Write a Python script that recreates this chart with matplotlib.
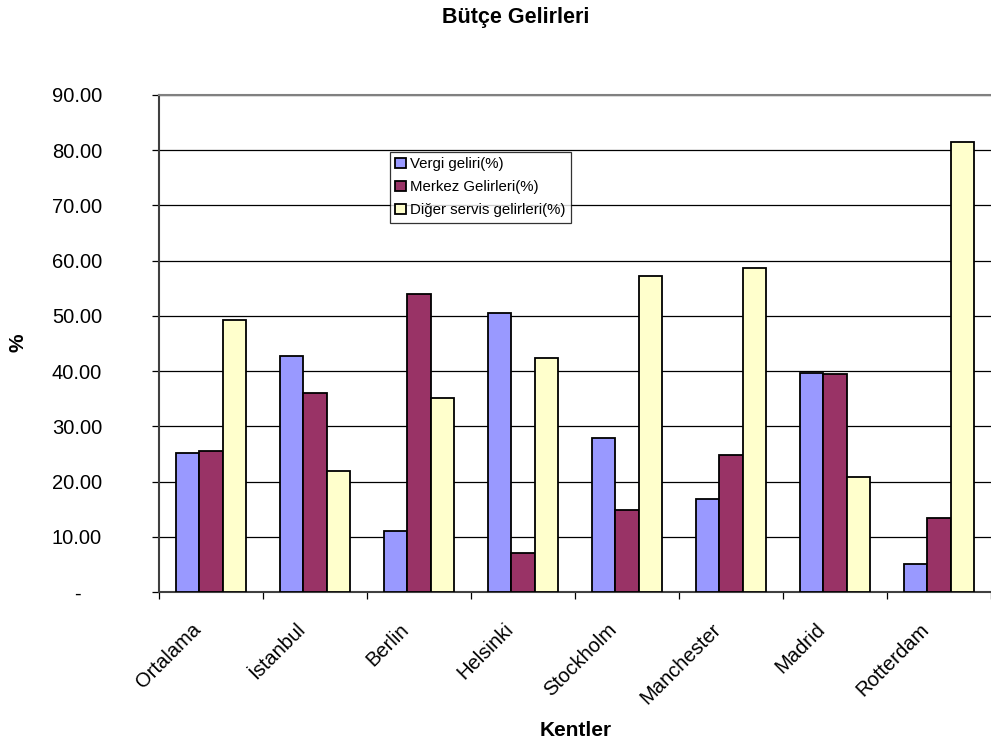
import matplotlib
matplotlib.use("Agg")
import matplotlib.pyplot as plt
import matplotlib.transforms as mtransforms
import numpy as np
from matplotlib.ticker import FixedLocator, FuncFormatter

plt.rcParams['font.family'] = ['Liberation Sans', 'DejaVu Sans']

cities = ["Ortalama", "İstanbul", "Berlin", "Helsinki", "Stockholm",
          "Manchester", "Madrid", "Rotterdam"]
vergi = [25.2, 42.8, 11.1, 50.5, 27.8, 16.8, 39.7, 5.0]
merkez = [25.6, 36.0, 53.9, 7.1, 14.8, 24.8, 39.4, 13.4]
diger = [49.3, 22.0, 35.1, 42.4, 57.2, 58.7, 20.9, 81.5]
series_names = ["Vergi geliri(%)", "Merkez Gelirleri(%)", "Diğer servis gelirleri(%)"]
colors = ["#9999FF", "#993366", "#FFFFCC"]
yticks = [0, 10, 20, 30, 40, 50, 60, 70, 80, 90]

fig = plt.figure(figsize=(9.91, 7.47), dpi=100)
ax = fig.add_axes([159/991, (747-592)/747, 1 - 159/991, (592-95)/747])

x = np.arange(len(cities)) + 0.5
w = 0.224
for k, (vals, name, c) in enumerate(zip([vergi, merkez, diger], series_names, colors)):
    ax.bar(x + (k - 1) * w, vals, width=w, color=c, edgecolor="black",
           linewidth=1.3, label=name, zorder=3)

ax.set_xlim(0, len(cities))
ax.set_ylim(0, 90)
ax.yaxis.set_major_locator(FixedLocator(yticks))
ax.yaxis.set_major_formatter(FuncFormatter(lambda v, p: "-" if v == 0 else f"{v:.2f}"))
ax.grid(axis="y", color="black", linewidth=0.9, zorder=0)
ax.tick_params(axis="y", labelsize=14.5, length=5, direction="out", width=0.9, pad=54)
for lbl in ax.get_yticklabels():
    lbl.set_ha("center")

ax.xaxis.set_major_locator(FixedLocator(np.arange(len(cities) + 1)))
ax.xaxis.set_major_formatter(FuncFormatter(lambda v, p: ""))
ax.xaxis.set_minor_locator(FixedLocator(x))
ax.set_xticks(x, cities, minor=True)
ax.tick_params(axis="x", which="major", length=5, direction="out", width=0.9)
ax.tick_params(axis="x", which="minor", length=0, labelsize=14.5, pad=20)
shift = mtransforms.ScaledTranslation(-6/100, 0, fig.dpi_scale_trans)
for lbl in ax.get_xticklabels(minor=True):
    lbl.set_rotation(45)
    lbl.set_ha("right")
    lbl.set_va("top")
    lbl.set_transform(lbl.get_transform() + shift)

for s in ["left", "bottom"]:
    ax.spines[s].set_color("#404040")
    ax.spines[s].set_linewidth(1.5)
ax.spines["top"].set_color("#808080")
ax.spines["top"].set_linewidth(1.5)
ax.spines["right"].set_visible(False)

leg = ax.legend(loc="upper left", bbox_to_anchor=((390-159)/832, (592-152)/497),
                fontsize=10.8, frameon=True, fancybox=False, edgecolor="black",
                handlelength=0.7, handleheight=0.7, handletextpad=0.3,
                labelspacing=0.6, borderpad=0.35, borderaxespad=0)
leg.get_frame().set_linewidth(0.9)
for h in leg.legend_handles:
    h.set_linewidth(1.3)

fig.text(516/991, 1 - 17/747, "Bütçe Gelirleri", ha="center", va="center",
         fontsize=15.5, fontweight="bold")
fig.text(18/991, 1 - 343/747, "%", ha="center", va="center", rotation=90,
         fontsize=15, fontweight="bold")
fig.text(576/991, 1 - 731/747, "Kentler", ha="center", va="center",
         fontsize=15, fontweight="bold")

fig.savefig("out.png", dpi=100)
